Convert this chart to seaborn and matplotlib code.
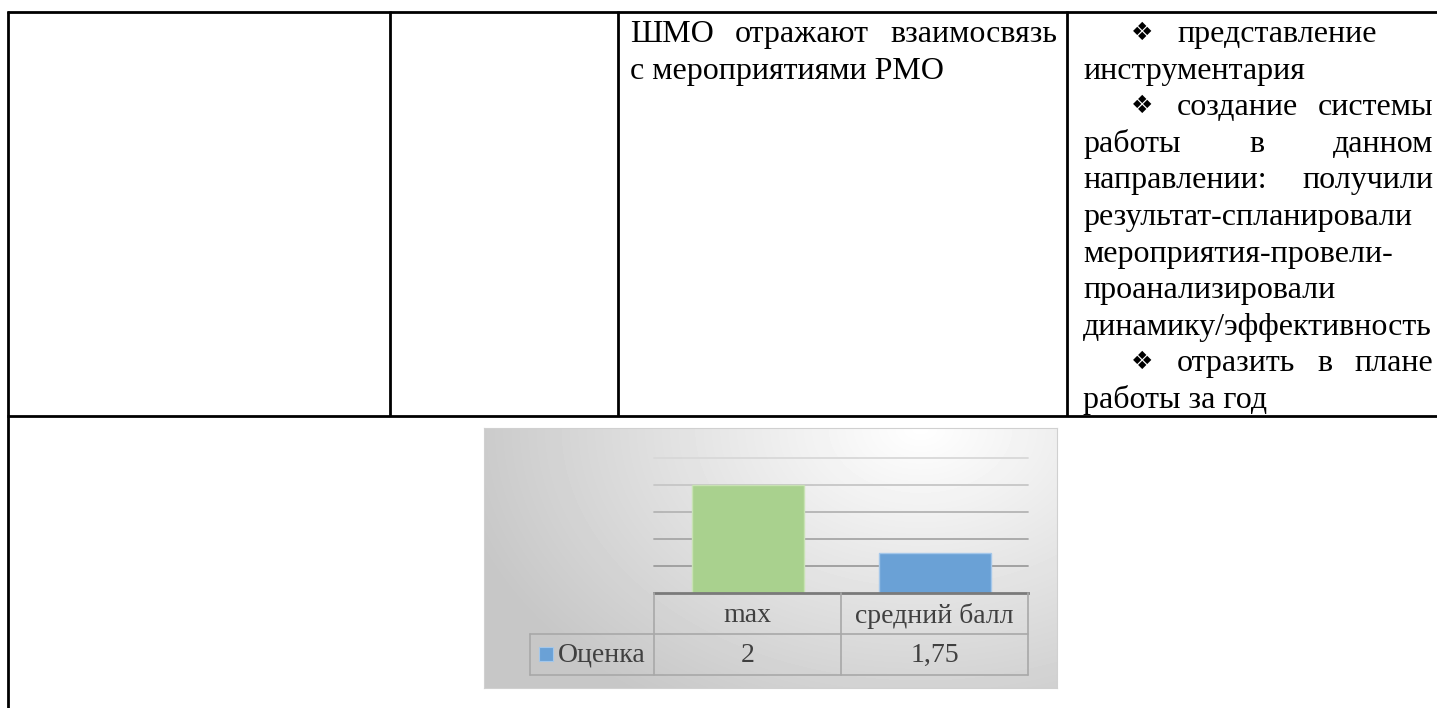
import numpy as np
import pandas as pd
import matplotlib
matplotlib.use("Agg")
import matplotlib.pyplot as plt
import matplotlib.transforms as mtransforms
from matplotlib.patches import Rectangle
import seaborn as sns

# chart data
categories   = ["max", "средний балл"]
scores       = [2, 1.75]
score_labels = ["2", "1,75"]
series_name  = "Оценка"
bar_colors   = ["#a9d18e", "#6aa1d6"]
edge_colors  = ["#c8e2b4", "#a4c7ea"]

# text of the table row above the chart
cell_lines   = ["ШМО отражают взаимосвязь", "с мероприятиями РМО"]
cell_justify = [True, False]

note_lines   = ["представление", "инструментария", "создание системы", "работы в данном",
                "направлении: получили", "результат-спланировали", "мероприятия-провели-",
                "проанализировали", "динамику/эффективность", "отразить в плане", "работы за год"]
note_bullet  = [True, False, True, False, False, False, False, False, False, True, False]
note_justify = [False, False, True, True, True, False, False, False, False, True, False]

sns.set_theme(style="white")
plt.rcParams["font.family"] = ["Liberation Serif", "DejaVu Sans"]

W, H = 1437, 708
fig = plt.figure(figsize=(W / 100, H / 100), dpi=100)


def box(x0, y0, x1, y1):
    return [x0 / W, 1 - y1 / H, (x1 - x0) / W, (y1 - y0) / H]


page = fig.add_axes([0, 0, 1, 1])
page.set_xlim(0, W)
page.set_ylim(H, 0)
page.axis("off")

# document table borders
for x, y0, y1 in [(8, 11, H), (390, 11, 416), (617.5, 11, 416), (1067, 11, 416)]:
    page.plot([x, x], [y0, y1], color="black", lw=2.0, solid_capstyle="butt")
for y in [12, 416]:
    page.plot([7, W], [y, y], color="black", lw=2.0, solid_capstyle="butt")

renderer = fig.canvas.get_renderer()
FS = 23


def put_line(text, x0, x1, y, justify):
    words = text.split(" ")
    if not justify or len(words) == 1:
        page.text(x0, y, text, fontsize=FS, va="baseline", ha="left", color="black")
        return
    arts = [page.text(0, y, w, fontsize=FS, va="baseline", ha="left", color="black") for w in words]
    widths = [a.get_window_extent(renderer).width for a in arts]
    gap = (x1 - x0 - sum(widths)) / (len(words) - 1)
    x = x0
    for a, w in zip(arts, widths):
        a.set_x(x)
        x += w + gap


for i, (line, just) in enumerate(zip(cell_lines, cell_justify)):
    put_line(line, 630, 1057, 42 + 36.6 * i, just)

for i, (line, bul, just) in enumerate(zip(note_lines, note_bullet, note_justify)):
    y = 42 + 36.6 * i
    if bul:
        page.text(1131, y - 9, "\u2756", fontsize=18, family="DejaVu Sans",
                  va="center", ha="left", color="black")
        put_line(line, 1177, 1433, y, just)
    else:
        put_line(line, 1083, 1433, y, just)

# chart background with soft gradient
bg = fig.add_axes(box(484, 428, 1057, 688))
yy, xx = np.mgrid[0:260, 0:573]
d = np.sqrt(((xx + 484 - 920) / 470) ** 2 + (yy / 330) ** 2)
shade = 1 - 0.22 * np.clip(d, 0, 1)
bg.imshow(shade, cmap="gray", vmin=0, vmax=1, aspect="auto", interpolation="bilinear")
bg.set_xticks([])
bg.set_yticks([])
for s in bg.spines.values():
    s.set_color("#d0d0d0")
    s.set_linewidth(0.8)

# plot area
ax = fig.add_axes(box(654.3, 457.7, 1028.3, 593.3))
ax.patch.set_alpha(0)
df = pd.DataFrame({"category": categories, "score": scores})
sns.barplot(data=df, x="category", y="score", hue="category", palette=bar_colors,
            saturation=1, width=0.6, legend=False, ax=ax, zorder=3)
for p, ec in zip(ax.patches, edge_colors):
    p.set_edgecolor(ec)
    p.set_linewidth(1.0)
ax.set_xlim(-0.5, 1.5)
ax.set_ylim(1.6, 2.1)
ax.set_yticks(np.arange(1.7, 2.11, 0.1))
ax.yaxis.grid(True, lw=1.3)
ax.set_axisbelow(True)
grid_cols = ["#9c9c9c", "#a6a6a6", "#b4b4b4", "#c6c6c6", "#d8d8d8"]
for gl, c in zip(ax.get_ygridlines(), grid_cols):
    gl.set_color(c)
    gl.set_clip_on(False)
ax.tick_params(left=False, bottom=False, labelleft=False, labelbottom=False)
ax.set_xlabel("")
ax.set_ylabel("")
for k in ["top", "left", "right"]:
    ax.spines[k].set_visible(False)
ax.spines["bottom"].set_color("#7a7a7a")
ax.spines["bottom"].set_linewidth(2.0)
ax.spines["bottom"].set_zorder(4)

# data table under the plot
over = fig.add_axes([0, 0, 1, 1])
over.set_xlim(0, W)
over.set_ylim(H, 0)
over.axis("off")
over.patch.set_alpha(0)
bt = mtransforms.blended_transform_factory(ax.transData, over.transData)
tc = "#a8a8a8"
for xv in [-0.5, 0.5, 1.5]:
    over.plot([xv, xv], [593.3, 675], color=tc, lw=1.2, transform=bt)
for y in [634, 675]:
    over.plot([530, 1028.3], [y, y], color=tc, lw=1.2)
over.plot([530, 530], [634, 675], color=tc, lw=1.2)

for i, (cat, lab) in enumerate(zip(categories, score_labels)):
    over.text(i, 616, cat, transform=bt, fontsize=20, ha="center", va="center", color="#404040")
    over.text(i, 655, lab, transform=bt, fontsize=20, ha="center", va="center", color="#404040")

over.add_patch(Rectangle((538.5, 647), 14, 14, facecolor=bar_colors[1], edgecolor="#a4c7ea", lw=0.8))
over.text(558, 655, series_name, fontsize=20, ha="left", va="center", color="#404040")

fig.savefig("out.png", dpi=100)
